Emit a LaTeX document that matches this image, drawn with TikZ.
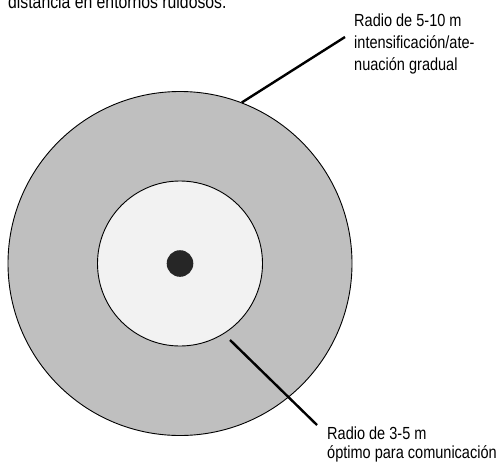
\documentclass[tikz,border=0pt]{standalone}
\usepackage{fontspec}
\setmainfont{Liberation Sans}[FakeStretch=0.83]
\definecolor{ringgray}{HTML}{BFBFBF}
\definecolor{coregray}{HTML}{F2F2F2}
\definecolor{dotgray}{HTML}{262626}
\begin{document}
\begin{tikzpicture}[x=1pt,y=-1pt,
  zone/.style={circle,draw=black,line width=0.9pt,inner sep=0pt},
  leader/.style={draw=black,line width=2.4pt},
  lbl/.style={inner sep=0pt,align=left,font=\fontsize{17.5}{21.7}\selectfont}]
\useasboundingbox (0,0) rectangle (500,463);
\node[zone,fill=ringgray,minimum size=344pt] (outer) at (180,263.5) {};
\node[zone,fill=coregray,minimum size=165pt] (inner) at (180,263.5) {};
\node[circle,fill=dotgray,inner sep=0pt,minimum size=26.6pt] (dot) at (180,263.5) {};
\node[lbl,anchor=base west,font=\fontsize{19}{22}\selectfont] (top) at (8,9) {distancia en entornos ruidosos.};
\node[lbl,anchor=base west] (far1) at (354,26.7) {Radio de 5-10 m};
\node[lbl,anchor=base west] (far2) at (354,48.4) {intensificación/ate-};
\node[lbl,anchor=base west] (far3) at (354,70.1) {nuación gradual};
\node[lbl,anchor=base west] (near1) at (327,439.5) {Radio de 3-5 m};
\node[lbl,anchor=base west] (near2) at (327,458.5) {óptimo para comunicación};
\coordinate (farend) at (345,37);
\coordinate (nearstart) at (230,340);
\coordinate (nearend) at (317,425);
\draw[leader] (outer.69.2) -- (farend);
\draw[leader] (nearstart) -- (nearend);
\end{tikzpicture}
\end{document}
